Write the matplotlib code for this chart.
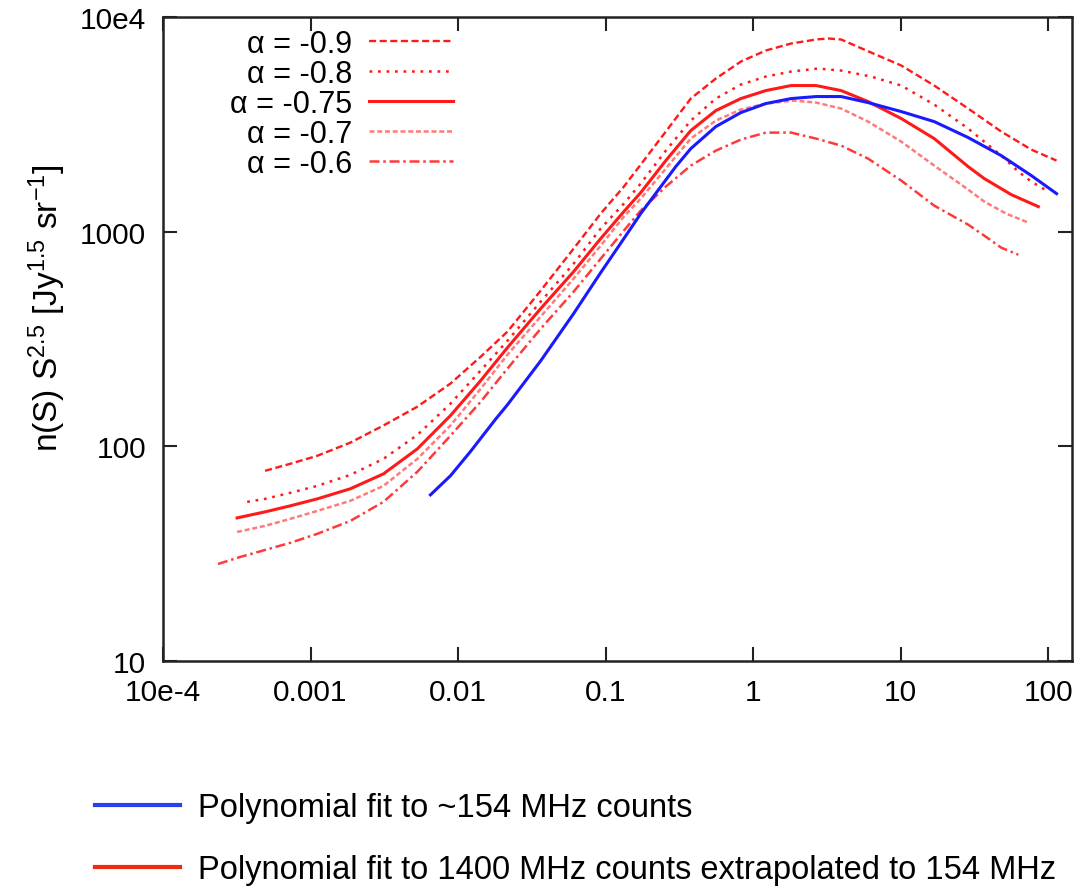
import matplotlib
matplotlib.use("Agg")
import matplotlib.pyplot as plt

plt.rcParams["font.family"] = ["Liberation Sans", "DejaVu Sans"]
plt.rcParams["mathtext.fontset"] = "custom"
plt.rcParams["mathtext.rm"] = "Liberation Sans"
plt.rcParams["mathtext.it"] = "Liberation Sans:italic"

# flux density S [Jy] and n(S) S^2.5, one set per curve
s_a09 = [4.92e-4, 7.28e-4, 1.11e-3, 1.86e-3, 3.12e-3, 5.30e-3, 8.88e-3, 0.0142,
         0.0216, 0.0363, 0.0607, 0.0926, 0.133, 0.173, 0.256, 0.378, 0.559, 0.826,
         1.22, 1.81, 2.67, 3.22, 3.95, 6.30, 10.1, 16.9, 28.7, 48.1, 76.9, 114]
y_a09 = [76.9, 82.9, 90.3, 104, 125, 153, 196, 261,
         342, 531, 833, 1213, 1621, 2053, 2926, 4169, 5168, 6201,
         6981, 7524, 7856, 7943, 7856, 6832, 5943, 4794, 3745, 2926, 2411, 2143]

s_a08 = [3.72e-4, 4.92e-4, 7.28e-4, 1.11e-3, 1.86e-3, 3.12e-3, 5.30e-3, 8.88e-3,
         0.0142, 0.0216, 0.0363, 0.0607, 0.0926, 0.133, 0.173, 0.256, 0.378, 0.559,
         0.826, 1.22, 1.81, 2.75, 3.95, 6.30, 10.1, 16.9, 28.7, 48.1, 62.8, 76.9, 100]
y_a08 = [55.1, 56.9, 60.7, 65.4, 73.6, 87.4, 113, 158,
         225, 310, 472, 709, 1033, 1351, 1674, 2385, 3291, 4169,
         4845, 5280, 5570, 5754, 5630, 5280, 4794, 3909, 3022, 2261, 1904, 1711, 1537]

s_a075 = [3.18e-4, 4.92e-4, 7.28e-4, 1.11e-3, 1.86e-3, 3.12e-3, 5.30e-3, 8.88e-3,
          0.0142, 0.0216, 0.0363, 0.0607, 0.0926, 0.133, 0.173, 0.256, 0.378, 0.559,
          0.826, 1.22, 1.81, 2.67, 3.95, 6.02, 10.1, 16.9, 28.7, 36.9, 56.3, 85.8]
y_a075 = [46.4, 49.5, 52.8, 56.9, 63.4, 74.4, 97.3, 139,
          202, 288, 438, 651, 928, 1240, 1520, 2143, 2957, 3665,
          4169, 4542, 4794, 4794, 4542, 4037, 3364, 2714, 2009, 1767, 1487, 1308]

s_a07 = [3.18e-4, 4.92e-4, 7.28e-4, 1.11e-3, 1.86e-3, 3.12e-3, 5.30e-3, 8.88e-3,
         0.0142, 0.0216, 0.0363, 0.0607, 0.0926, 0.133, 0.173, 0.256, 0.378, 0.559,
         0.826, 1.22, 1.89, 2.67, 3.95, 6.02, 10.1, 16.9, 28.7, 36.9, 52.0, 73.4]
y_a07 = [39.9, 42.6, 45.9, 50.0, 55.7, 65.4, 87.4, 125,
         185, 267, 402, 604, 860, 1175, 1425, 1967, 2714, 3291,
         3705, 3952, 4081, 3993, 3745, 3256, 2627, 2031, 1570, 1380, 1213, 1102]

s_a06 = [2.36e-4, 3.33e-4, 4.92e-4, 7.28e-4, 1.11e-3, 1.86e-3, 3.12e-3, 5.30e-3,
         8.88e-3, 0.0142, 0.0216, 0.0363, 0.0607, 0.0926, 0.133, 0.173, 0.256, 0.378,
         0.559, 0.826, 1.22, 1.81, 2.67, 3.95, 6.02, 10.1, 16.9, 28.7, 36.9, 48.1, 62.8]
y_a06 = [28.3, 30.5, 32.9, 35.5, 39.1, 44.9, 55.1, 76.1,
         112, 161, 230, 353, 525, 748, 1011, 1253, 1621, 2031,
         2385, 2685, 2894, 2894, 2714, 2517, 2189, 1729, 1322, 1078, 958, 842, 781]

s_154 = [6.50e-3, 8.88e-3, 0.0121, 0.0180, 0.0216, 0.0363, 0.0607, 0.0926, 0.133,
         0.173, 0.226, 0.299, 0.378, 0.559, 0.826, 1.22, 1.81, 2.67, 3.95,
         6.02, 10.1, 16.9, 28.7, 48.1, 76.9, 114]
y_154 = [59.4, 72.9, 94.3, 134, 156, 250, 415, 644, 928,
         1213, 1553, 2009, 2437, 3087, 3587, 3952, 4169, 4260, 4260,
         3993, 3626, 3256, 2744, 2261, 1825, 1504]

xticks = [1e-4, 1e-3, 1e-2, 0.1, 1, 10, 100]
xticklabels = ["10e-4", "0.001", "0.01", "0.1", "1", "10", "100"]
yticks = [10, 100, 1000, 10000]
yticklabels = ["10", "100", "1000", "10e4"]

red = "#ff1a1a"
blue = "#1a1aff"

fig = plt.figure(figsize=(10.78, 8.87), dpi=100)
ax = fig.add_axes([0.1512, 0.2537, 0.8432, 0.726])

ax.plot(s_a09, y_a09, color=red, lw=1.7, dashes=(3, 1.5), label=r"α = -0.9")
ax.plot(s_a08, y_a08, color=red, lw=1.8, dashes=(1.1, 2.3), label=r"α = -0.8")
ax.plot(s_a075, y_a075, color=red, lw=2.2, label=r"α = -0.75")
ax.plot(s_a07, y_a07, color="#ff7a7a", lw=1.8, dashes=(2, 1.1), label=r"α = -0.7")
ax.plot(s_a06, y_a06, color="#ff3a3a", lw=1.8, dashes=(4, 1.5, 1, 1.5), label=r"α = -0.6")
ax.plot(s_154, y_154, color=blue, lw=2.2)

ax.set_xscale("log")
ax.set_yscale("log")
ax.set_xlim(1e-4, 145)
ax.set_ylim(10, 10000)
ax.set_xticks(xticks)
ax.set_xticklabels(xticklabels)
ax.set_yticks(yticks)
ax.set_yticklabels(yticklabels)
ax.minorticks_off()
ax.tick_params(which="major", direction="in", length=10, width=1.5,
               top=True, right=True, labelsize=21.5, pad=12, color="#222222")
for sp in ax.spines.values():
    sp.set_linewidth(1.8)
    sp.set_color("#222222")

ax.set_ylabel(r"n(S) S$^{2.5}$ [Jy$^{1.5}$ sr$^{-1}$]", fontsize=24)
ax.yaxis.set_label_coords(-0.105, 0.55)

# key inside the plot: text first, line sample after it
ax.legend(loc="upper right", bbox_to_anchor=(0.4202, 0.9662),
          bbox_transform=fig.transFigure, frameon=False, markerfirst=False,
          fontsize=22, handlelength=2.75, handletextpad=0.55,
          labelspacing=0.0, borderpad=0, borderaxespad=0)

# key below the plot
h_blue, = ax.plot([], [], color="#2a40f0", lw=3)
h_red, = ax.plot([], [], color="#f02a10", lw=3)
fig.legend([h_blue, h_red],
           ["Polynomial fit to ~154 MHz counts",
            "Polynomial fit to 1400 MHz counts extrapolated to 154 MHz"],
           loc="upper left", bbox_to_anchor=(0.088, 0.1055), frameon=False,
           fontsize=23.5, handlelength=2.6, handletextpad=0.55,
           labelspacing=0.95, borderpad=0, borderaxespad=0)

fig.savefig("out.png", dpi=100)
